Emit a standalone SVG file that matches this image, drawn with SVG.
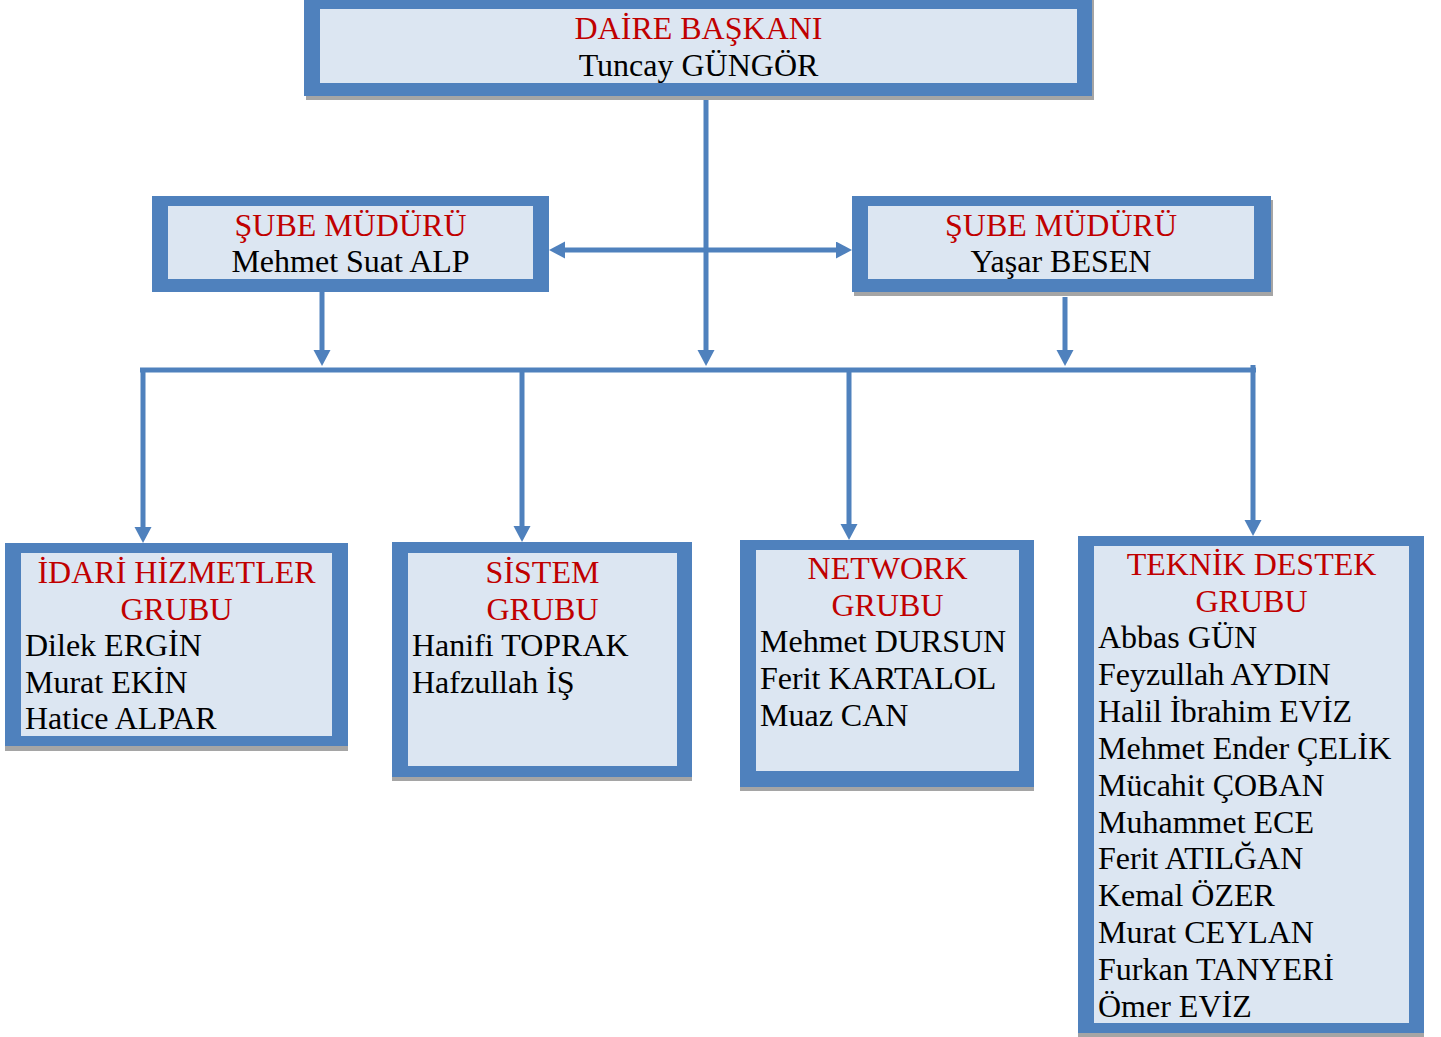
<svg xmlns="http://www.w3.org/2000/svg" width="1441" height="1037" viewBox="0 0 1441 1037">
<style>
.sh{fill:#A5A5A5}
.bd{fill:#4F81BD}
.in{fill:#DCE6F2}
text{font-family:"Liberation Serif","Times New Roman",serif;font-size:32px}
.t{fill:#C00000;text-anchor:middle}
.c{fill:#000;text-anchor:middle}
.n{fill:#000}
.ln{stroke:#4F81BD;stroke-width:5;fill:none}
</style>
<defs>
<marker id="ah" markerUnits="userSpaceOnUse" markerWidth="17" markerHeight="18" refX="0" refY="8.5" orient="auto-start-reverse">
<path d="M0,0 L16,8.5 L0,17 z" fill="#4F81BD"/>
</marker>
</defs>
<rect width="1441" height="1037" fill="#fff"/>
<g id="connectors">
<line class="ln" x1="706" y1="96" x2="706" y2="350" marker-end="url(#ah)"/>
<line class="ln" x1="565" y1="250" x2="836" y2="250" marker-start="url(#ah)" marker-end="url(#ah)"/>
<line class="ln" x1="322" y1="292" x2="322" y2="350" marker-end="url(#ah)"/>
<line class="ln" x1="1065" y1="297" x2="1065" y2="350" marker-end="url(#ah)"/>
<line class="ln" x1="140" y1="370" x2="1256" y2="370"/>
<line class="ln" x1="1253" y1="365" x2="1253" y2="372"/>
<line class="ln" x1="143" y1="368" x2="143" y2="527" marker-end="url(#ah)"/>
<line class="ln" x1="522" y1="368" x2="522" y2="526" marker-end="url(#ah)"/>
<line class="ln" x1="849" y1="368" x2="849" y2="524" marker-end="url(#ah)"/>
<line class="ln" x1="1253" y1="368" x2="1253" y2="520" marker-end="url(#ah)"/>
</g>
<g id="daire-baskani">
<rect class="sh" x="306" y="-5" width="788" height="105"/>
<rect class="bd" x="304" y="-5" width="788" height="101"/>
<rect class="in" x="320" y="9" width="757" height="74"/>
<text class="t" x="698.5" y="39">DAİRE BAŞKANI</text>
<text class="c" x="698.5" y="76">Tuncay GÜNGÖR</text>
</g>
<g id="sube-mudurü-alp">
<rect class="bd" x="152" y="196" width="397" height="96"/>
<rect class="in" x="168" y="206" width="365" height="73"/>
<text class="t" x="350.5" y="236">ŞUBE MÜDÜRÜ</text>
<text class="c" x="350.5" y="272">Mehmet Suat ALP</text>
</g>
<g id="sube-muduru-besen">
<rect class="sh" x="854" y="200" width="419" height="96"/>
<rect class="bd" x="852" y="196" width="419" height="96"/>
<rect class="in" x="868" y="206" width="386" height="73"/>
<text class="t" x="1061" y="236">ŞUBE MÜDÜRÜ</text>
<text class="c" x="1061" y="272">Yaşar BESEN</text>
</g>
<g id="idari-hizmetler">
<rect class="sh" x="5" y="547" width="343" height="204"/>
<rect class="bd" x="5" y="543" width="343" height="203"/>
<rect class="in" x="21" y="553" width="311" height="183"/>
<text class="t" x="176.5" y="583">İDARİ HİZMETLER</text>
<text class="t" x="176.5" y="619.5">GRUBU</text>
<text class="n" x="25" y="656">Dilek ERGİN</text>
<text class="n" x="25" y="692.5">Murat EKİN</text>
<text class="n" x="25" y="729">Hatice ALPAR</text>
</g>
<g id="sistem">
<rect class="sh" x="392" y="547" width="300" height="234"/>
<rect class="bd" x="392" y="542" width="300" height="235"/>
<rect class="in" x="408" y="553" width="269" height="213"/>
<text class="t" x="542.5" y="583">SİSTEM</text>
<text class="t" x="542.5" y="619.5">GRUBU</text>
<text class="n" x="412" y="656">Hanifi TOPRAK</text>
<text class="n" x="412" y="692.5">Hafzullah İŞ</text>
</g>
<g id="network">
<rect class="sh" x="740" y="544" width="294" height="247"/>
<rect class="bd" x="740" y="540" width="294" height="247"/>
<rect class="in" x="756" y="550" width="263" height="221"/>
<text class="t" x="887.5" y="579">NETWORK</text>
<text class="t" x="887.5" y="615.5">GRUBU</text>
<text class="n" x="760" y="652">Mehmet DURSUN</text>
<text class="n" x="760" y="689">Ferit KARTALOL</text>
<text class="n" x="760" y="726">Muaz CAN</text>
</g>
<g id="teknik-destek">
<rect class="sh" x="1078" y="540" width="346" height="497"/>
<rect class="bd" x="1078" y="536" width="346" height="497"/>
<rect class="in" x="1094" y="546" width="315" height="477"/>
<text class="t" x="1251.5" y="575">TEKNİK DESTEK</text>
<text class="t" x="1251.5" y="611.5">GRUBU</text>
<text class="n" x="1098" y="648">Abbas GÜN</text>
<text class="n" x="1098" y="685">Feyzullah AYDIN</text>
<text class="n" x="1098" y="722">Halil İbrahim EVİZ</text>
<text class="n" x="1098" y="758.5">Mehmet Ender ÇELİK</text>
<text class="n" x="1098" y="795.5">Mücahit ÇOBAN</text>
<text class="n" x="1098" y="832.5">Muhammet ECE</text>
<text class="n" x="1098" y="869">Ferit ATILĞAN</text>
<text class="n" x="1098" y="906">Kemal ÖZER</text>
<text class="n" x="1098" y="943">Murat CEYLAN</text>
<text class="n" x="1098" y="980">Furkan TANYERİ</text>
<text class="n" x="1098" y="1017">Ömer EVİZ</text>
</g>
</svg>
